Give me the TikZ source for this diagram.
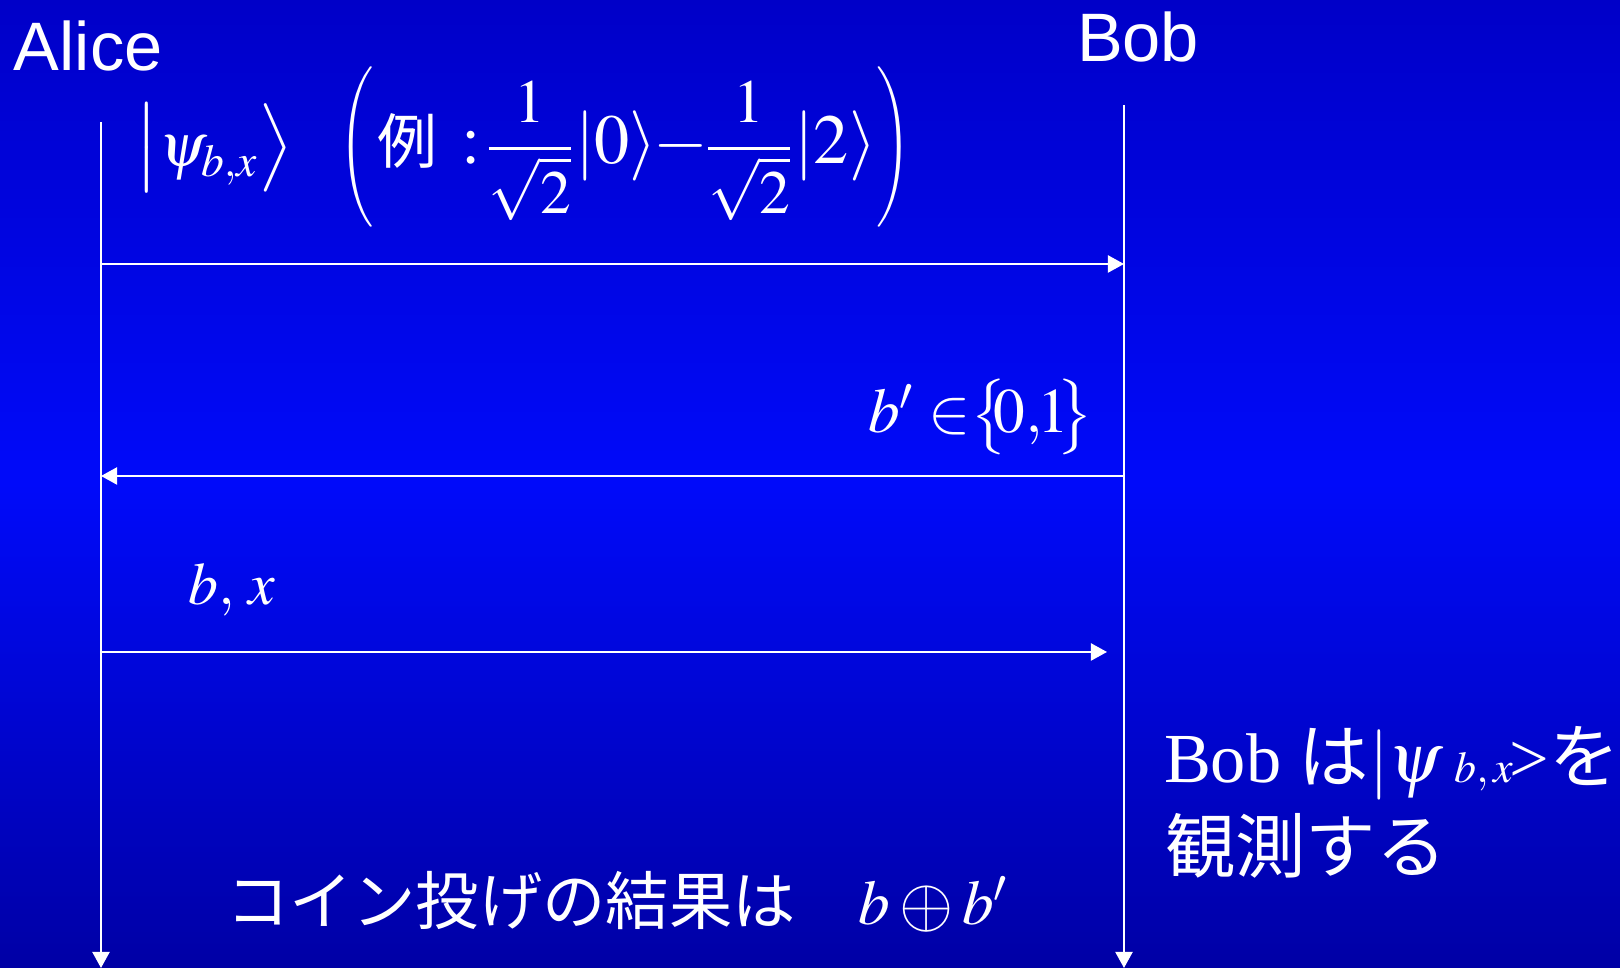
\documentclass[tikz,border=0pt]{standalone}
\usepackage{mathptmx}
\usepackage{graphicx}
\usepackage[no-math]{fontspec}
\setmainfont{Liberation Serif}
\newfontfamily\arial{Liberation Sans}
\newfontfamily\jp{Noto Sans CJK JP}
\usetikzlibrary{arrows.meta}
\definecolor{bgtop}{RGB}{0,0,200}
\definecolor{bgmid}{RGB}{0,10,250}
\definecolor{bgbot}{RGB}{0,0,165}
% sized delimiter: font size, delimiter, height, depth
\newcommand{\dlL}[4]{\mbox{\fontsize{#1}{#1}\selectfont\nulldelimiterspace=0pt$\left#2\vrule height #3 depth #4 width 0pt\right.$}}
\newcommand{\dlR}[4]{\mbox{\fontsize{#1}{#1}\selectfont\nulldelimiterspace=0pt$\left.\vrule height #3 depth #4 width 0pt\right#2$}}
\newcommand{\bfr}{\mbox{\fontsize{17.5}{20}\selectfont$\displaystyle\frac{1}{\sqrt{2}}$}}
\newcommand{\thinparen}[1]{\scalebox{0.7}[1]{\dlL{19}{#1}{23pt}{17pt}}}
\newcommand{\thinparenR}[1]{\scalebox{0.7}[1]{\dlR{19}{#1}{23pt}{17pt}}}
\begin{document}
\begin{tikzpicture}[x=0.01cm,y=-0.01cm,
  life/.style={draw=white,line width=0.57pt,-{Triangle[length=4.6pt,width=4.9pt]}},
  msg/.style={draw=white,line width=0.57pt,-{Triangle[length=4.6pt,width=4.9pt]}},
  lbl/.style={text=white,inner sep=0pt,outer sep=0pt},
]
\shade[top color=bgtop,bottom color=bgbot,middle color=bgmid] (0,0) rectangle (1620,968);
\useasboundingbox (0,0) rectangle (1620,968);

% actors
\node[lbl,anchor=base west,font=\arial\fontsize{19.5}{23}\selectfont] (alice) at (14,71) {Alice};
\node[lbl,anchor=base west,font=\arial\fontsize{19.5}{23}\selectfont] (bob) at (1077,62) {Bob};

% lifelines
\coordinate (aTop) at (101,122);
\coordinate (aBot) at (101,968);
\coordinate (bTop) at (1124,105);
\coordinate (bBot) at (1124,968);
\draw[life] (aTop) -- (aBot);
\draw[life] (bTop) -- (bBot);

% message 1
\node[lbl,font=\fontsize{17.5}{21}\selectfont] (ket) at (214,148)
  {$\dlL{21}{|}{18.75pt}{8.25pt}\psi_{b,x}\dlR{21}{\rangle}{18.75pt}{8.25pt}$};
\node[lbl,font=\fontsize{20}{24}\selectfont] (ex) at (625,147)
  {$\thinparen(\kern1pt\mbox{\jp\fontsize{17}{20}\selectfont 例}\ \kern2pt{:}\kern1pt\bfr\mkern-2mu\left|0\right\rangle\mkern-3mu{-}\mkern-1mu\bfr\mkern-2mu\left|2\right\rangle\mkern-2mu\thinparenR)$};
\coordinate (a1) at (101,264);
\coordinate (b1) at (1124,264);
\draw[msg] (a1) -- (b1);

% message 2
\node[lbl,anchor=base west,font=\fontsize{18}{22}\selectfont] (bp) at (868,433)
  {$b'\in\mkern-4mu\bigl\{\mkern-4mu 0{,}\mkern-1.5mu 1\mkern-3.5mu\bigr\}$};
\coordinate (b2) at (1124,476);
\coordinate (a2) at (101,476);
\draw[msg] (b2) -- (a2);

% message 3
\node[lbl,anchor=base west,font=\fontsize{17}{21}\selectfont] (bx) at (189,605) {$b,\,x$};
\coordinate (a3) at (101,652);
\coordinate (b3) at (1107,652);
\draw[msg] (a3) -- (b3);

% Bob measures
\node[lbl,anchor=base west,font=\fontsize{20}{24}\selectfont] (meas1) at (1164,783)
  {Bob {\jp は}$|\psi$\,{\fontsize{12.5}{15}\selectfont$b,x$}\kern-1pt>{\jp を}};
\node[lbl,anchor=base west,font=\jp\fontsize{20}{24}\selectfont] (meas2) at (1165,873) {観測する};

% result
\node[lbl,anchor=base west,font=\fontsize{18}{22}\selectfont] (res) at (226,925)
  {{\jp コイン投げの結果は}\quad$b\mathbin{\vcenter{\hbox{\scalebox{1.1}{$\oplus$}}}}b'$};
\end{tikzpicture}
\end{document}
